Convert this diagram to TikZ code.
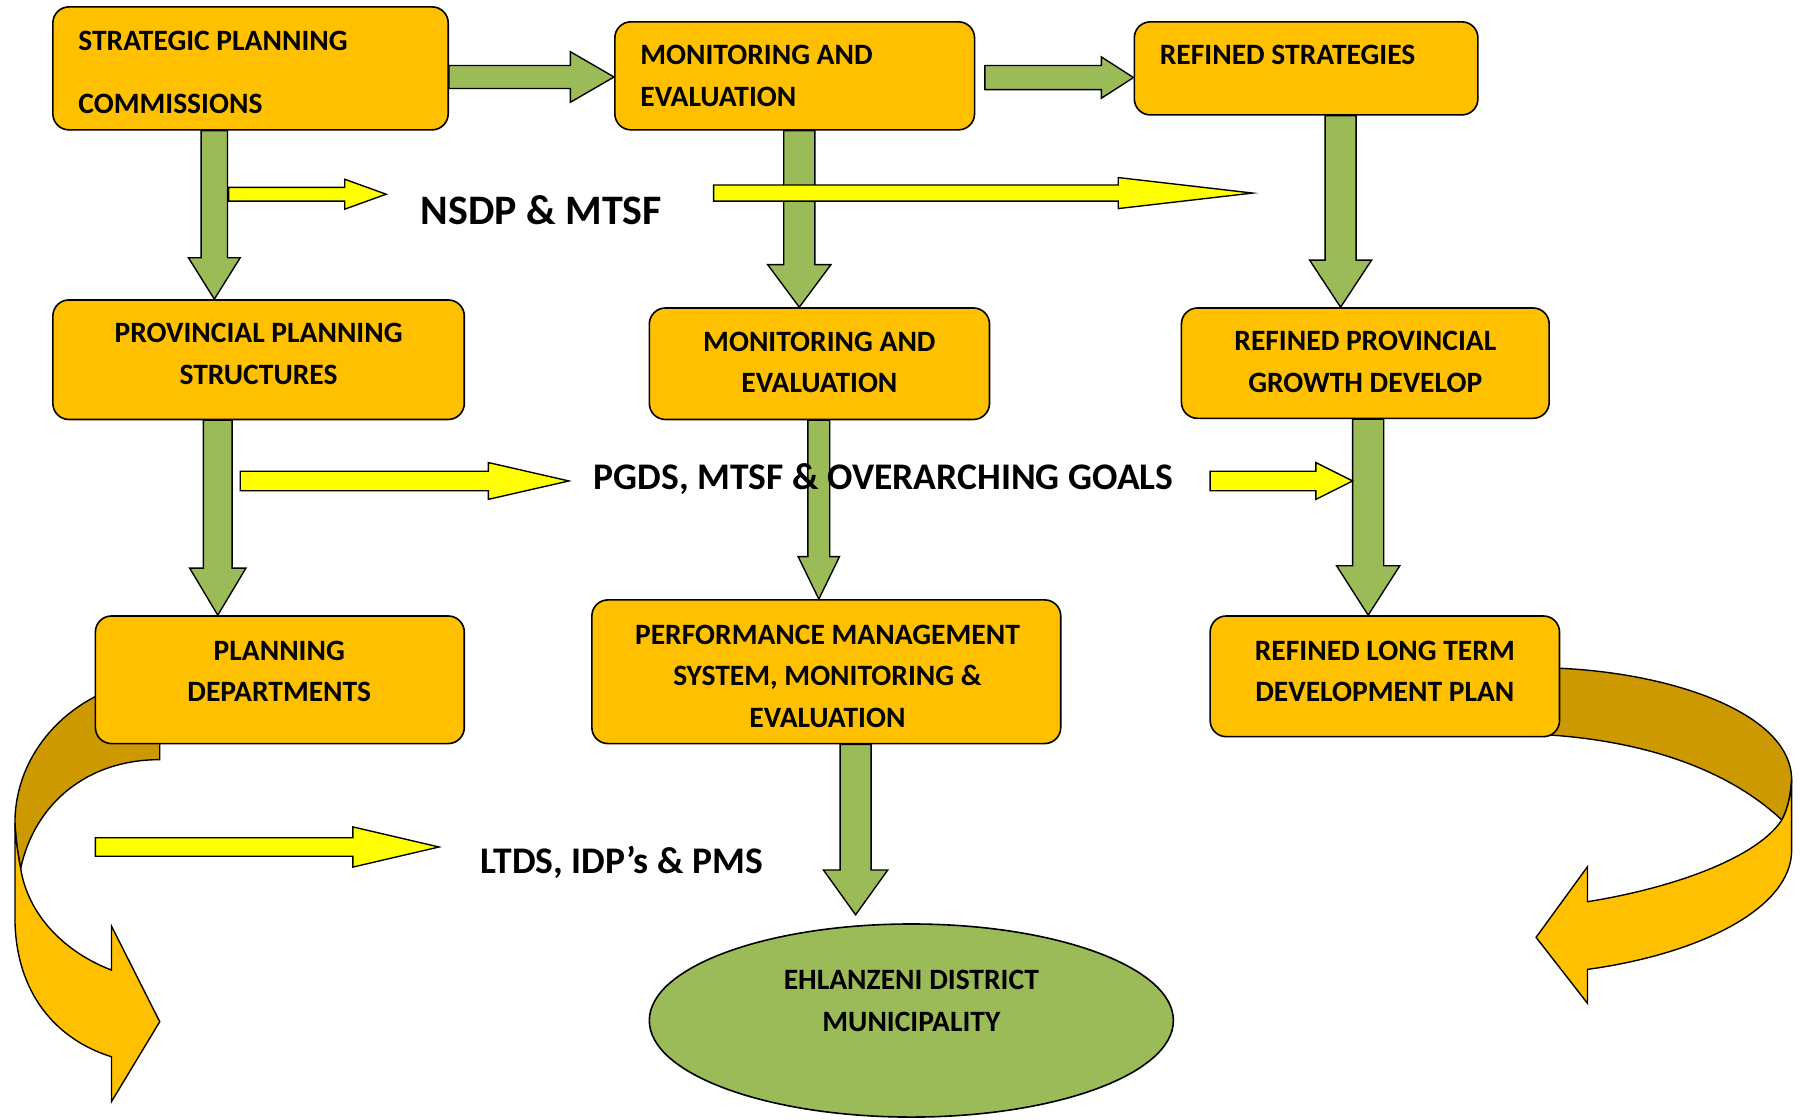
\documentclass[tikz,border=0pt]{standalone}
\usepackage{fontspec}
\setmainfont{Carlito}
\usetikzlibrary{calc,shapes.geometric}
\definecolor{boxgold}{HTML}{FFC000}
\definecolor{darkgold}{HTML}{CC9900}
\definecolor{olivegreen}{HTML}{9BBB59}
\definecolor{brightyellow}{HTML}{FFFF00}
\tikzset{
  box/.style={draw=black, line width=1.4pt, fill=boxgold, rounded corners=14pt, inner sep=0pt},
  ellbox/.style={draw=black, line width=1.4pt, fill=olivegreen, ellipse, inner sep=0pt},
  boxtext/.style={font=\fontsize{25.7}{36}\selectfont\bfseries, inner sep=0pt, align=center},
  boxtextwide/.style={font=\fontsize{25.7}{54}\selectfont\bfseries, inner sep=0pt, align=left},
  lbl/.style={font=\fontsize{32.7}{40}\selectfont\bfseries, inner sep=0pt},
  lblbig/.style={font=\fontsize{36.5}{44}\selectfont\bfseries, inner sep=0pt},
  greenarrow/.style={draw=black, line width=1.2pt, fill=olivegreen, line join=miter},
  yellowarrow/.style={draw=black, line width=1.2pt, fill=brightyellow, line join=miter},
  curvedark/.style={draw=black, line width=1.2pt, fill=darkgold},
  curvelight/.style={draw=black, line width=1.2pt, fill=boxgold, line join=miter},
}
% vertical block arrow: style, top point, bottom (tip) point, shaft half width, head half width, head length
\newcommand\vblk[6]{%
  \path[#1] let \p1=(#2), \p2=(#3) in
    (\x1-#4pt,\y1) -- (\x1-#4pt,\y2+#6pt) -- (\x1-#5pt,\y2+#6pt) -- (\x1,\y2)
    -- (\x1+#5pt,\y2+#6pt) -- (\x1+#4pt,\y2+#6pt) -- (\x1+#4pt,\y1) -- cycle;}
% horizontal block arrow: style, start point, tip point, shaft half width, head half width, head length
\newcommand\hblk[6]{%
  \path[#1] let \p1=(#2), \p2=(#3) in
    (\x1,\y1+#4pt) -- (\x2-#6pt,\y1+#4pt) -- (\x2-#6pt,\y1+#5pt) -- (\x2,\y1)
    -- (\x2-#6pt,\y1-#5pt) -- (\x2-#6pt,\y1-#4pt) -- (\x1,\y1-#4pt) -- cycle;}
\begin{document}
\begin{tikzpicture}[x=1pt,y=1pt]
\useasboundingbox (0,0) rectangle (1568,-974);
\fill[white] (0,0) rectangle (1568,-974);

% curved arrows (behind the boxes)
\path[curvedark] (150,-590) arc[start angle=90, end angle=180, x radius=137, y radius=126]
  .. controls (14,-735) and (16,-745) .. (18,-755.6)
  .. controls (30,-700) and (75,-661) .. (139,-661) -- (139,-595) -- cycle;
\path[curvelight] (13,-716) -- (13,-798) .. controls (13,-865) and (50,-905) .. (97,-919.5)
  -- (97,-958.6) -- (139,-889) -- (97,-805.8) -- (97,-844.1)
  .. controls (55,-828) and (24,-795) .. (18,-755.6)
  .. controls (16,-745) and (14,-735) .. (13,-716) -- cycle;

\path[curvedark] (1340,-581) .. controls (1445,-582) and (1559,-618) .. (1559,-678.7)
  .. controls (1558,-692) and (1556,-703) .. (1550.4,-713.5)
  .. controls (1515,-680) and (1450,-645) .. (1340,-639) -- cycle;
\path[curvelight] (1559,-678.7) -- (1559,-739.7) .. controls (1559,-790) and (1480,-830) .. (1381.3,-843.5)
  -- (1381.3,-873) -- (1336.6,-815.6) -- (1381.3,-754.2) -- (1381.3,-784.6)
  .. controls (1460,-772) and (1530,-745) .. (1550.4,-713.5)
  .. controls (1556,-703) and (1558,-692) .. (1559,-678.7) -- cycle;

% boxes
\node[box, minimum width=344pt, minimum height=107pt] (A) at (218,-59.5) {};
\node[box, minimum width=313pt, minimum height=94pt] (B) at (691.5,-66) {};
\node[box, minimum width=299pt, minimum height=81pt] (C) at (1136.5,-59.5) {};
\node[box, minimum width=358pt, minimum height=104pt] (D) at (225,-313) {};
\node[box, minimum width=296pt, minimum height=97pt] (E) at (713,-316.5) {};
\node[box, minimum width=320pt, minimum height=96pt] (F) at (1188,-316) {};
\node[box, minimum width=321pt, minimum height=111pt] (G) at (243.5,-591.5) {};
\node[box, minimum width=408pt, minimum height=125pt] (H) at (719,-584.5) {};
\node[box, minimum width=304pt, minimum height=105pt] (I) at (1205,-588.5) {};
\node[ellbox, minimum width=456pt, minimum height=168pt] (M) at (793,-888) {};

% box texts
\node[boxtextwide, anchor=west] (At) at (68,-63) {STRATEGIC PLANNING\\COMMISSIONS};
\node[boxtext, align=left, anchor=west] (Bt) at (557,-66) {MONITORING AND\\EVALUATION};
\node[boxtext, anchor=west] (Ct) at (1009,-48) {REFINED STRATEGIES};
\node[boxtext] (Dt) at (225,-308) {PROVINCIAL PLANNING\\STRUCTURES};
\node[boxtext] (Et) at (713,-315.5) {MONITORING AND\\EVALUATION};
\node[boxtext] (Ft) at (1188,-315) {REFINED PROVINCIAL\\GROWTH DEVELOP};
\node[boxtext] (Gt) at (243,-584) {PLANNING\\DEPARTMENTS};
\node[boxtext] (Ht) at (720,-588.5) {PERFORMANCE MANAGEMENT\\SYSTEM, MONITORING \&\\EVALUATION};
\node[boxtext] (It) at (1205,-584) {REFINED LONG TERM\\DEVELOPMENT PLAN};
\node[boxtext] (Mt) at (793,-871) {EHLANZENI DISTRICT\\MUNICIPALITY};

% free arrow ends
\coordinate (g2s) at (857,-67.5);
\coordinate (g9tip) at (744.5,-796);
\coordinate (y1s) at (199,-169);   \coordinate (y1e) at (336,-169);
\coordinate (y2s) at (621,-168);   \coordinate (y2e) at (1090,-168);
\coordinate (y3s) at (209,-418.5); \coordinate (y3e) at (495,-418.5);
\coordinate (y4s) at (1053,-418.5);\coordinate (y4e) at (1177,-418.5);
\coordinate (y5s) at (83,-737);    \coordinate (y5e) at (382,-737);

% green block arrows
\hblk{greenarrow}{A.east |- 0,-67}{B.west |- 0,-67}{10}{22}{38}
\hblk{greenarrow}{g2s}{C.west |- g2s}{10.5}{18}{28}
\vblk{greenarrow}{186.5,0 |- A.south}{186.5,0 |- D.north}{11.5}{22.5}{36}
\vblk{greenarrow}{695.5,0 |- B.south}{695.5,0 |- E.north}{13.5}{27.5}{37}
\vblk{greenarrow}{1166.5,0 |- C.south}{1166.5,0 |- F.north}{13.5}{27}{41}
\vblk{greenarrow}{189.5,0 |- D.south}{189.5,0 |- G.north}{12.5}{24.5}{41}
\vblk{greenarrow}{712.5,0 |- E.south}{712.5,0 |- H.north}{9.5}{18}{37}
\vblk{greenarrow}{1190.5,0 |- F.south}{1190.5,0 |- I.north}{13.5}{27.5}{43}
\vblk{greenarrow}{744.5,0 |- H.south}{g9tip}{13.5}{28}{39}

% yellow block arrows
\hblk{yellowarrow}{y1s}{y1e}{6}{13}{36}
\hblk{yellowarrow}{y2s}{y2e}{7}{13.5}{117}
\hblk{yellowarrow}{y3s}{y3e}{8.5}{16}{70}
\hblk{yellowarrow}{y4s}{y4e}{8.5}{16}{32}
\hblk{yellowarrow}{y5s}{y5e}{8}{17.5}{75}

% labels
\node[lblbig] (L1) at (471,-183) {NSDP \& MTSF};
\node[lbl] (L2) at (769,-416.5) {PGDS, MTSF \& OVERARCHING GOALS};
\node[lbl] (L3) at (541,-750) {LTDS, IDP’s \& PMS};
\end{tikzpicture}
\end{document}
